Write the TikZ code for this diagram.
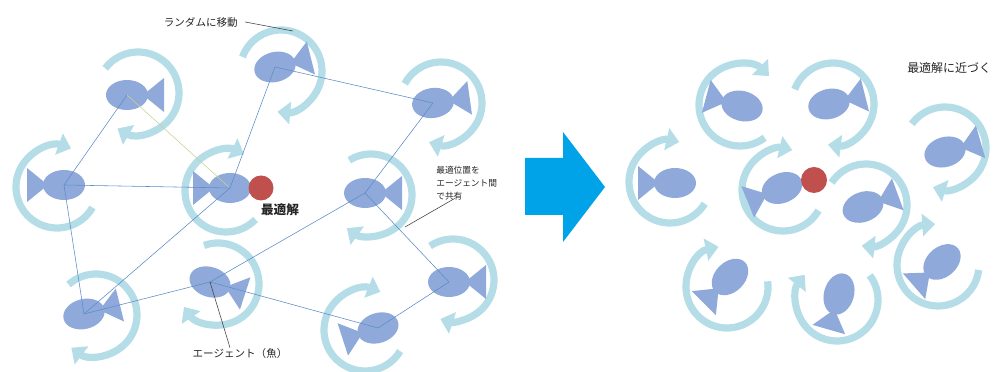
\documentclass[tikz,border=0pt]{standalone}
\usepackage{fontspec}
\newfontfamily\jp{Noto Sans CJK JP}
\usetikzlibrary{arrows.meta}

\definecolor{fishblue}{RGB}{143,170,218}
\definecolor{ringblue}{RGB}{180,221,231}
\definecolor{linkblue}{RGB}{92,140,200}
\definecolor{linkgreen}{RGB}{196,212,150}
\definecolor{dotred}{RGB}{192,80,77}
\definecolor{stepblue}{RGB}{0,162,232}

% one fish: body plus tail, tail pointing along +x
\tikzset{
	fish/.pic={
		\fill[fishblue] (0,0) ellipse [x radius=21, y radius=15];
		\fill[fishblue] (16,0) -- (37,17) -- (37,-17) -- cycle;
	},
}

\begin{document}
\begin{tikzpicture}[x=0.025cm, y=0.025cm,
		ring/.style={draw=ringblue, line width=0.18cm, -{Triangle[length=0.32cm, width=0.55cm]}},
		link/.style={draw=linkblue, line width=0.4pt},
		leader/.style={draw=black!75, line width=0.4pt},
		note/.style={font=\jp\fontsize{7.5}{9}\selectfont, text=black!85, inner sep=0pt},
	]
	\useasboundingbox (0,0) rectangle (993,372);

	% fish positions, left swarm
	\coordinate (fishA) at (127,277);
	\coordinate (fishB) at (275,305);
	\coordinate (fishC) at (433,269);
	\coordinate (fishD) at (64,187);
	\coordinate (fishE) at (230,184);
	\coordinate (fishF) at (365,179);
	\coordinate (fishG) at (210,90);
	\coordinate (fishH) at (84,58);
	\coordinate (fishI) at (449,90);
	\coordinate (fishJ) at (378,44);

	% fish positions, right swarm
	\coordinate (goalA) at (742,266);
	\coordinate (goalB) at (829,268);
	\coordinate (goalC) at (945,220);
	\coordinate (goalD) at (675,189);
	\coordinate (goalE) at (782,184);
	\coordinate (goalF) at (863,165);
	\coordinate (goalG) at (730,95);
	\coordinate (goalH) at (839,78);
	\coordinate (goalI) at (942,110);

	% swimming circles
	\draw[ring] (138,279) ++(143:41) arc[start angle=143, end angle=-120, radius=41];
	\draw[ring] (281,301) ++(160:41) arc[start angle=160, end angle=-95, radius=41];
	\draw[ring] (441,269) ++(152:41) arc[start angle=152, end angle=-107, radius=41];
	\draw[ring] (57,185) ++(-30:41) arc[start angle=-30, end angle=-290, radius=41];
	\draw[ring] (226,181) ++(-44:41) arc[start angle=-44, end angle=-296, radius=41];
	\draw[ring] (371,177) ++(122:41) arc[start angle=122, end angle=-126, radius=41];
	\draw[ring] (218,88) ++(110:41) arc[start angle=110, end angle=-146, radius=41];
	\draw[ring] (96,57) ++(132:41) arc[start angle=132, end angle=-127, radius=41];
	\draw[ring] (453,92) ++(124:41) arc[start angle=124, end angle=-108, radius=41];
	\draw[ring] (365,42) ++(-31:41) arc[start angle=-31, end angle=-292, radius=41];

	\draw[ring] (740,267) ++(-53:41) arc[start angle=-53, end angle=-315, radius=41];
	\draw[ring] (833,268) ++(159:41) arc[start angle=159, end angle=-97, radius=41];
	\draw[ring] (945,224) ++(144:41) arc[start angle=144, end angle=-107, radius=41];
	\draw[ring] (670,190) ++(-32:41) arc[start angle=-32, end angle=-283, radius=41];
	\draw[ring] (783,182) ++(-30:41) arc[start angle=-30, end angle=-283, radius=41];
	\draw[ring] (866,167) ++(147:41) arc[start angle=147, end angle=-96, radius=41];
	\draw[ring] (727,85) ++(8:41) arc[start angle=8, end angle=-258, radius=41];
	\draw[ring] (837,72) ++(37:41) arc[start angle=37, end angle=-218, radius=41];
	\draw[ring] (938,107) ++(-7:41) arc[start angle=-7, end angle=-266, radius=41];

	% fish
	\pic at (fishA) {fish};
	\pic[rotate=14] at (fishB) {fish};
	\pic[rotate=8] at (fishC) {fish};
	\pic[rotate=180] at (fishD) {fish};
	\pic[rotate=180] at (fishE) {fish};
	\pic at (fishF) {fish};
	\pic[rotate=-18] at (fishG) {fish};
	\pic[rotate=14] at (fishH) {fish};
	\pic at (fishI) {fish};
	\pic[rotate=198] at (fishJ) {fish};

	\pic[rotate=165] at (goalA) {fish};
	\pic[rotate=14] at (goalB) {fish};
	\pic[rotate=16] at (goalC) {fish};
	\pic[rotate=180] at (goalD) {fish};
	\pic[rotate=202] at (goalE) {fish};
	\pic[rotate=20] at (goalF) {fish};
	\pic[rotate=225] at (goalG) {fish};
	\pic[rotate=254] at (goalH) {fish};
	\pic[rotate=221] at (goalI) {fish};

	% shared information between agents
	\draw[link] (fishA) -- (fishD);
	\draw[link, draw=linkgreen] (fishA) -- (fishE);
	\draw[link] (fishD) -- (fishE);
	\draw[link] (fishB) -- (fishE);
	\draw[link] (fishB) -- (fishC);
	\draw[link] (fishC) -- (fishF);
	\draw[link] (fishD) -- (fishH);
	\draw[link] (fishH) -- (fishE);
	\draw[link] (fishH) -- (fishG);
	\draw[link] (fishG) -- (fishF);
	\draw[link] (fishG) -- (fishJ);
	\draw[link] (fishF) -- (fishI);
	\draw[link] (fishI) -- (fishJ);

	% optimum
	\fill[dotred] (261,184) circle (12.5);
	\fill[dotred] (814,192) circle (13);

	% step arrow
	\fill[stepblue] (525,214) -- (563,214) -- (563,240) -- (605,185)
		-- (563,130) -- (563,157) -- (525,157) -- cycle;

	% labels
	\node[note, anchor=east] (randomnote) at (238,350) {ランダムに移動};
	\coordinate (randomtip) at (293,341);
	\draw[leader] ([xshift=0.18cm]randomnote.east) -- (randomtip);

	\node[note, font=\jp\bfseries\fontsize{9}{11}\selectfont] (bestnote) at (280,162) {最適解};

	\node[note, anchor=north west, align=left, font=\jp\fontsize{6.2}{9.2}\selectfont] (sharenote) at (436,206)
		{最適位置を\\エージェント間\\で共有};
	\coordinate (sharetip) at (405,145);
	\draw[leader] ([xshift=-0.3cm, yshift=0.05cm]sharenote.south) -- (sharetip);

	\node[note] (agentnote) at (240,19) {エージェント（魚）};
	\draw[leader] (fishG) -- ([xshift=-0.25cm]agentnote.north);

	\node[note, anchor=west, font=\jp\fontsize{8.5}{10}\selectfont] (nearnote) at (907,304) {最適解に近づく};
\end{tikzpicture}
\end{document}
